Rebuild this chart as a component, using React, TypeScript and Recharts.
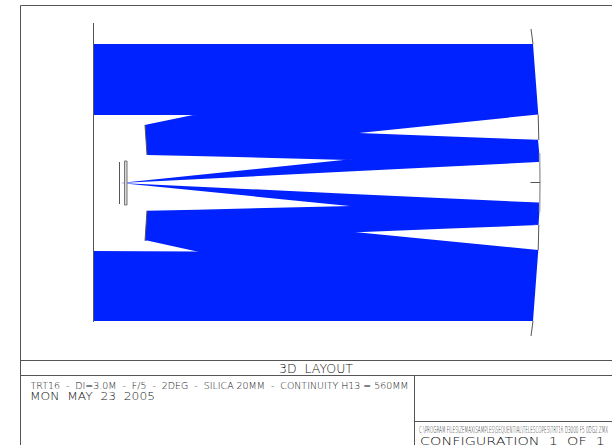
import { Area, ComposedChart, Line, ReferenceArea, ReferenceLine, XAxis, YAxis } from "recharts";

const BLUE = "#0022ff";
const INK = "#555555";

// beam outlines: x, then top and bottom edge of the beam at that x
// neighbouring beams overlap a little so no seam shows between them
const upperOuterX = [93, 193, 276, 359, 533, 538.3];
const upperOuterTop = [44, 44, 44, 44, 44, 114.6];
const upperOuterBottom = [115, 115, 140, 133, 115, 114.6];

const upperInnerX = [145, 147, 193, 237, 348, 359, 450, 538];
const upperInnerTop = [125, 124.6, 115, 120, 132, 133, 136.5, 139.8];
const upperInnerBottom = [125, 155, 156, 157, 160, 159, 160, 139.8];

const upperConeX = [120, 348, 538, 540];
const upperConeTop = [183, 159.5, 139.8, 162];
const upperConeBottom = [183, 171.6, 162.1, 162];

const lowerConeX = [120, 352, 538.5, 540];
const lowerConeTop = [183, 193.9, 202.6, 202.7];
const lowerConeBottom = [183, 206.2, 225, 202.7];

const lowerInnerX = [145, 147, 197, 352, 357, 450, 538.5];
const lowerInnerTop = [240.7, 210.7, 209.7, 206, 206, 210, 225];
const lowerInnerBottom = [240.7, 240.4, 251.5, 232.9, 232.3, 228.5, 225];

const lowerOuterX = [93, 197, 277, 357, 533, 538.3];
const lowerOuterTop = [251, 251.5, 225, 232.3, 249.5, 250];
const lowerOuterBottom = [321, 321, 321, 321, 321, 250];

// optics outlines
const primaryX = [93.5, 93.5];
const primaryY = [23, 322];
const mirrorStubTopX = [531, 533];
const mirrorStubTopY = [29, 44];
const mirrorUpperX = [538.2, 538.8];
const mirrorUpperY = [114.6, 140];
const mirrorCentreX = [539.6, 540, 539.6];
const mirrorCentreY = [153, 183, 212];
const mirrorLowerX = [538.8, 538.2];
const mirrorLowerY = [225, 250];
const mirrorStubBottomX = [533, 531];
const mirrorStubBottomY = [321, 336];
const secondaryUpperX = [145, 147];
const secondaryUpperY = [125, 155];
const secondaryLowerX = [147, 145];
const secondaryLowerY = [210.7, 240.7];

const band = (xs: number[], top: number[], bottom: number[]) =>
  xs.map((x, i) => ({ x, y: [top[i], bottom[i]] }));
const path = (xs: number[], ys: number[]) => xs.map((x, i) => ({ x, y: ys[i] }));

const bands = [
  band(upperOuterX, upperOuterTop, upperOuterBottom),
  band(upperInnerX, upperInnerTop, upperInnerBottom),
  band(upperConeX, upperConeTop, upperConeBottom),
  band(lowerConeX, lowerConeTop, lowerConeBottom),
  band(lowerInnerX, lowerInnerTop, lowerInnerBottom),
  band(lowerOuterX, lowerOuterTop, lowerOuterBottom),
];

const darkPaths = [
  path(primaryX, primaryY),
  path(mirrorStubTopX, mirrorStubTopY),
  path(mirrorUpperX, mirrorUpperY),
  path(mirrorLowerX, mirrorLowerY),
  path(mirrorStubBottomX, mirrorStubBottomY),
  path(secondaryUpperX, secondaryUpperY),
  path(secondaryLowerX, secondaryLowerY),
];

const titleText = "3D  LAYOUT";
const noteText = "TRT16  -  DI=3.0M  -  F/5  -  2DEG  -  SILICA 20MM  -  CONTINUITY H13 = 560MM";
const dateText = "MON  MAY  23  2005";
const fileText = "C:\\PROGRAM FILES\\ZEMAX\\SAMPLES\\SEQUENTIAL\\TELESCOPES\\TRT16 D3000 F5 0DG2.ZMX";
const configText = "CONFIGURATION  1  OF  1";

function Caption({ x, y, size, width, children }: { x: number; y: number; size: number; width: number; children: string }) {
  return (
    <text
      x={x}
      y={y}
      fontSize={size}
      fontFamily="DejaVu Sans, sans-serif"
      fontWeight={200}
      fill="#111111"
      textLength={width}
      lengthAdjust="spacingAndGlyphs"
      style={{ whiteSpace: "pre" }}
    >
      {children}
    </text>
  );
}

export default function App() {
  return (
    <div style={{ position: "absolute", left: 0, top: 0, width: 612, height: 445, overflow: "hidden", background: "#fff" }}>
      <ComposedChart width={612} height={445} margin={{ top: 0, right: 0, bottom: 0, left: 0 }}>
        <XAxis type="number" dataKey="x" domain={[0, 612]} hide allowDataOverflow />
        <YAxis type="number" domain={[0, 445]} reversed hide allowDataOverflow />

        {bands.map((d, i) => (
          <Area
            key={i}
            data={d}
            dataKey="y"
            type="linear"
            fill={BLUE}
            fillOpacity={1}
            stroke="none"
            dot={false}
            activeDot={false}
            isAnimationActive={false}
          />
        ))}

        {darkPaths.map((d, i) => (
          <Line
            key={i}
            data={d}
            dataKey="y"
            type="linear"
            stroke={INK}
            strokeWidth={1}
            dot={false}
            activeDot={false}
            isAnimationActive={false}
          />
        ))}
        <Line
          data={path(mirrorCentreX, mirrorCentreY)}
          dataKey="y"
          type="linear"
          stroke="#a8a8a8"
          strokeWidth={1.6}
          dot={false}
          activeDot={false}
          isAnimationActive={false}
        />

        {/* detector and window */}
        <ReferenceLine segment={[{ x: 119.5, y: 162 }, { x: 119.5, y: 204 }]} stroke={INK} />
        <ReferenceArea x1={124.5} x2={127} y1={161} y2={205} fill="#d8d8d8" fillOpacity={1} stroke="#777777" />
        <ReferenceLine segment={[{ x: 530.5, y: 182.5 }, { x: 540, y: 182.5 }]} stroke={INK} />

        {/* page frame */}
        <ReferenceLine segment={[{ x: 20.5, y: 5.5 }, { x: 612, y: 5.5 }]} stroke={INK} />
        <ReferenceLine segment={[{ x: 20.5, y: 5.5 }, { x: 20.5, y: 445 }]} stroke={INK} />
        <ReferenceLine segment={[{ x: 20.5, y: 360.5 }, { x: 612, y: 360.5 }]} stroke={INK} />
        <ReferenceLine segment={[{ x: 20.5, y: 375.5 }, { x: 612, y: 375.5 }]} stroke={INK} />
        <ReferenceLine segment={[{ x: 414.5, y: 375.5 }, { x: 414.5, y: 445 }]} stroke={INK} />
        <ReferenceLine segment={[{ x: 414.5, y: 421.5 }, { x: 612, y: 421.5 }]} stroke={INK} />

        <Caption x={279} y={372.5} size={12} width={74}>{titleText}</Caption>
        <Caption x={30.5} y={388.5} size={9.5} width={378}>{noteText}</Caption>
        <Caption x={30} y={400} size={11} width={125}>{dateText}</Caption>
        <Caption x={419} y={433} size={9} width={189}>{fileText}</Caption>
        <Caption x={420} y={445} size={11} width={185}>{configText}</Caption>
      </ComposedChart>
    </div>
  );
}
